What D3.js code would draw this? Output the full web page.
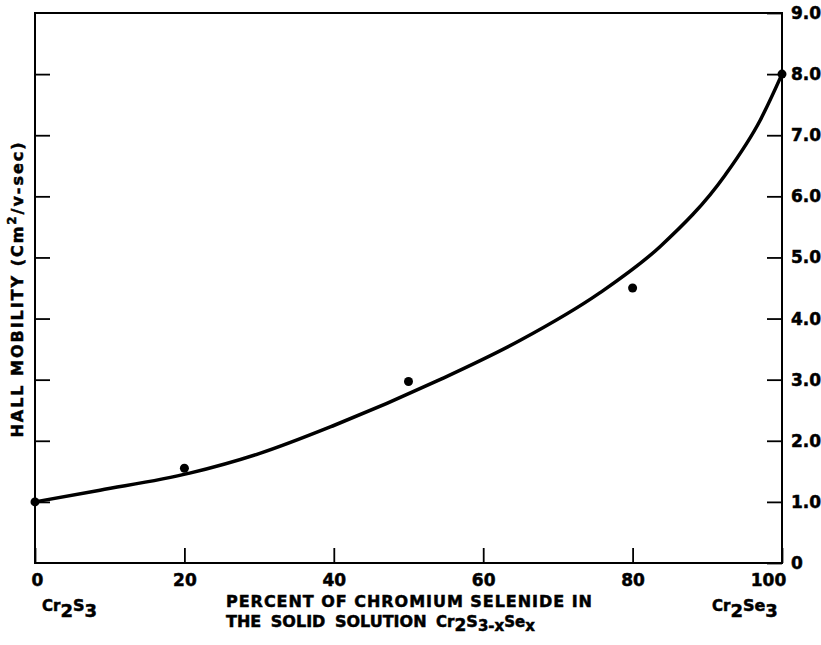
<!DOCTYPE html>
<html><head><meta charset="utf-8">
<script src="https://cdn.jsdelivr.net/npm/d3@7"></script>
<style>
html,body{margin:0;padding:0;background:#fff;}
text{font-family:"DejaVu Sans",sans-serif;font-weight:bold;fill:#000;stroke:#000;stroke-width:0.5px;}
</style></head>
<body>
<svg id="chart" width="821" height="645"></svg>
<script>
// Data
const pointX = [0, 20, 50, 80, 100];
const pointY = [1.0, 1.55, 2.97, 4.5, 8.0];
const curveX = [0, 8.7, 20.7, 30, 40, 54.2, 64.9, 75.6, 83.7, 92.4, 97.1, 100];
const curveY = [1.0, 1.19, 1.47, 1.79, 2.25, 3.0, 3.64, 4.42, 5.18, 6.35, 7.25, 8.0];
const xTicks = [0, 20, 40, 60, 80, 100];
const xTickLabels = ["0", "20", "40", "60", "80", "100"];
const yTicks = [0, 1, 2, 3, 4, 5, 6, 7, 8, 9];
const yTickLabels = ["0", "1.0", "2.0", "3.0", "4.0", "5.0", "6.0", "7.0", "8.0", "9.0"];

const svg = d3.select("#chart");
const L = 35, R = 782, T = 13, B = 563;
const x = d3.scaleLinear().domain([0, 100]).range([L, R]);
const y = d3.scaleLinear().domain([0, 9]).range([B, T]);

// Right axis with labels, ticks inward
const ra = svg.append("g").attr("transform", `translate(${R},0)`)
  .call(d3.axisRight(y).tickValues(yTicks).tickSize(-15).tickPadding(10)
    .tickFormat((d, i) => yTickLabels[i]));
ra.select(".domain").remove();
ra.selectAll("text").style("font-size", "17px").attr("x", 9).attr("fill", "#000");
ra.selectAll("line").attr("stroke-width", 1.8);

// Left axis ticks only
const la = svg.append("g").attr("transform", `translate(${L},0)`)
  .call(d3.axisLeft(y).tickValues(yTicks.slice(1, 9)).tickSize(-15).tickFormat(""));
la.select(".domain").remove();
la.selectAll("line").attr("stroke-width", 1.8);

// Bottom axis
const ba = svg.append("g").attr("transform", `translate(0,${B})`)
  .call(d3.axisBottom(x).tickValues(xTicks).tickSize(-15).tickPadding(11)
    .tickFormat((d, i) => xTickLabels[i]));
ba.select(".domain").remove();
ba.selectAll("text").style("font-size", "17px").attr("fill", "#000")
  .attr("dx", d => d === 100 ? -14 : (d === 0 ? 2 : 0));
ba.selectAll("line").attr("stroke-width", 1.8);

// Frame
svg.append("rect").attr("x", L).attr("y", T).attr("width", R - L).attr("height", B - T)
  .attr("fill", "none").attr("stroke", "#000").attr("stroke-width", 2);

// Curve
const line = d3.line().x(d => x(d[0])).y(d => y(d[1])).curve(d3.curveMonotoneX);
svg.append("path").datum(curveX.map((v, i) => [v, curveY[i]]))
  .attr("d", line).attr("fill", "none").attr("stroke", "#000").attr("stroke-width", 3.5);

// Points
svg.selectAll("circle.pt").data(pointX.map((v, i) => [v, pointY[i]])).enter()
  .append("circle").attr("class", "pt")
  .attr("cx", d => x(d[0])).attr("cy", d => y(d[1])).attr("r", 4.5).attr("fill", "#000");

// Chemical labels
function chem(t, parts) {
  parts.forEach(p => {
    t.append("tspan").text(p[0]).style("font-size", p[1] + "px").attr("dy", p[2]);
  });
}
const c1 = svg.append("text").attr("x", 42).attr("y", 611);
chem(c1, [["Cr", 15, 0], ["2", 18, 6], ["S", 16, -6], ["3", 18, 6]]);
const c2 = svg.append("text").attr("x", 712).attr("y", 611);
chem(c2, [["Cr", 15, 0], ["2", 18, 6], ["Se", 16, -6], ["3", 18, 6]]);

// X title
svg.append("text").attr("x", 226).attr("y", 607).attr("textLength", 366)
  .style("font-size", "16px").text("PERCENT OF CHROMIUM SELENIDE IN");
const t2 = svg.append("text").attr("x", 226).attr("y", 627).style("font-size", "16px");
t2.append("tspan").text("THE SOLID SOLUTION ").style("word-spacing", "4px");
t2.append("tspan").text("Cr").style("font-size", "15px");
t2.append("tspan").text("2").style("font-size", "17px").attr("dy", 4);
t2.append("tspan").text("S").style("font-size", "16px").attr("dy", -4);
t2.append("tspan").text("3-x").style("font-size", "15px").attr("dy", 4);
t2.append("tspan").text("Se").style("font-size", "15px").attr("dy", -4);
t2.append("tspan").text("x").style("font-size", "15px").attr("dy", 4);

// Y title
const yt = svg.append("text").attr("transform", "translate(23,290) rotate(-90)")
  .attr("text-anchor", "middle").attr("textLength", 295).style("font-size", "16px");
yt.append("tspan").text("HALL MOBILITY (Cm");
yt.append("tspan").text("2").style("font-size", "12px").attr("dy", -7);
yt.append("tspan").text("/v-sec)").attr("dy", 7);
</script>
</body></html>
